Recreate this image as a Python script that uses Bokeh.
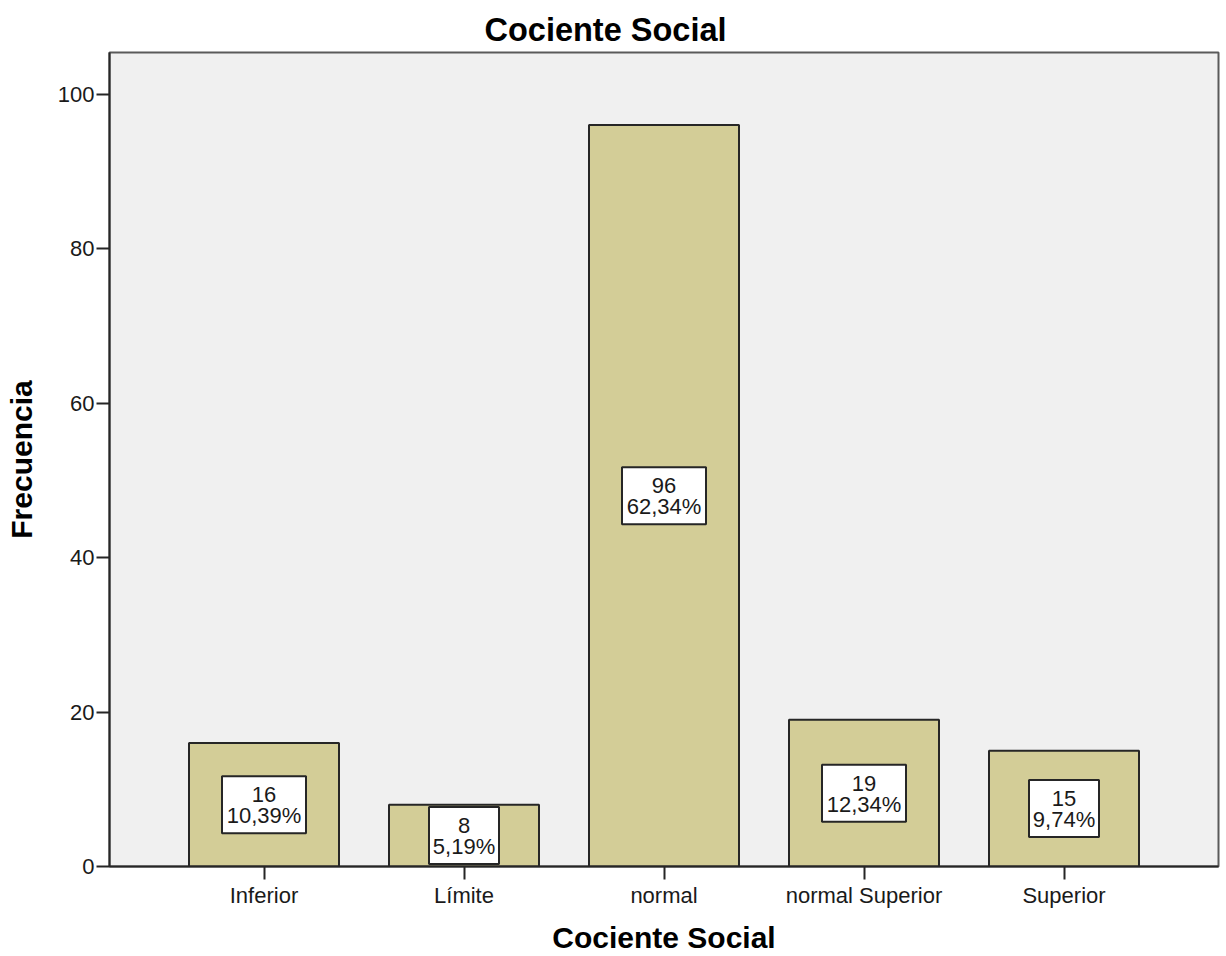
from bokeh.plotting import figure
from bokeh.models import FactorRange, Range1d, FixedTicker, ColumnDataSource
from bokeh.core.properties import value
from bokeh.embed import file_html
from bokeh.resources import INLINE

# ---- data ----
categories = ["Inferior", "Límite", "normal", "normal Superior", "Superior"]
counts = [16, 8, 96, 19, 15]
percents = ["10,39%", "5,19%", "62,34%", "12,34%", "9,74%"]
y_ticks = [0, 20, 40, 60, 80, 100]
title_text = "Cociente Social"
x_label = "Cociente Social"
y_label = "Frecuencia"

FONT = "Liberation Sans"
BAR_FILL = "#d3cd97"
DARK = "#262626"

src = ColumnDataSource(dict(
    cat=categories,
    count=counts,
    mid=[c / 2 for c in counts],
    count_txt=[str(c) for c in counts],
    pct=percents,
    box_w=[14 * len(s) for s in percents],
))

p = figure(
    width=1226, height=956,
    x_range=FactorRange(factors=categories, range_padding=0.2725, range_padding_units="absolute"),
    y_range=Range1d(0, 105.4),
    output_backend="svg", toolbar_location=None,
    min_border_left=109, min_border_right=8, min_border_top=52, min_border_bottom=90,
)

p.vbar(x="cat", top="count", width=0.75, source=src,
       fill_color=BAR_FILL, line_color=DARK, line_width=2)

p.rect(x="cat", y="mid", width="box_w", height=57, width_units="screen", height_units="screen",
       source=src, fill_color="white", line_color=DARK, line_width=2)

p.text(x="cat", y="mid", text="count_txt", y_offset=-10, source=src,
       text_align="center", text_baseline="middle", text_font=value(FONT),
       text_font_size="22px", text_color="#1a1a1a")
p.text(x="cat", y="mid", text="pct", y_offset=11, source=src,
       text_align="center", text_baseline="middle", text_font=value(FONT),
       text_font_size="22px", text_color="#1a1a1a")

# title
p.title.text = title_text
p.title.text_font = FONT
p.title.text_font_size = "32.5px"
p.title.text_font_style = "bold"
p.title.text_color = "#000000"
p.title.align = "left"
p.title.offset = 375
p.title.standoff = 9

# frame
p.background_fill_color = "#f0f0f0"
p.border_fill_color = "white"
p.outline_line_color = "#5a5a5a"
p.outline_line_width = 2
p.xgrid.visible = False
p.ygrid.visible = False

for ax in (p.xaxis[0], p.yaxis[0]):
    ax.axis_line_color = DARK
    ax.axis_line_width = 2
    ax.major_tick_line_color = DARK
    ax.major_tick_line_width = 2
    ax.major_tick_out = 13
    ax.major_tick_in = 0
    ax.minor_tick_line_color = None
    ax.major_label_text_font = FONT
    ax.major_label_text_font_size = "22px"
    ax.major_label_text_color = "#1a1a1a"
    ax.axis_label_text_font = FONT
    ax.axis_label_text_font_size = "30px"
    ax.axis_label_text_font_style = "bold"
    ax.axis_label_text_color = "#000000"

p.xaxis.axis_label = x_label
p.xaxis.major_label_standoff = 3
p.xaxis.axis_label_standoff = 10

p.yaxis.axis_label = y_label
p.yaxis.ticker = FixedTicker(ticks=y_ticks)
p.yaxis.major_label_standoff = 2
p.yaxis.axis_label_standoff = 17

open("out.html", "w").write(file_html(p, INLINE))
